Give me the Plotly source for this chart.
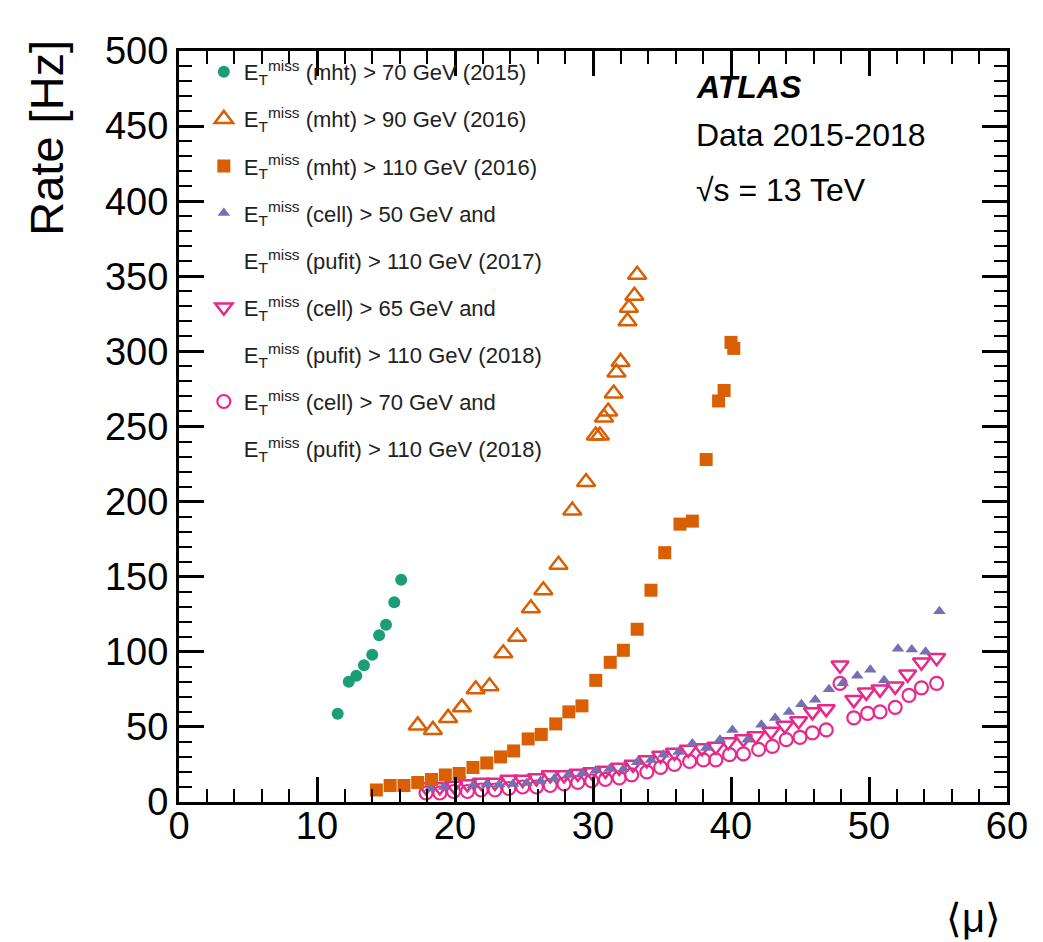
import plotly.graph_objects as go

# ---------------- data ----------------
mu_2015_mht70 = [11.5, 12.3, 12.85, 13.4, 14.0, 14.5, 15.0, 15.6, 16.1]
rate_2015_mht70 = [58.7, 80, 84, 91, 98, 111, 118, 133, 148]

mu_2016_mht90 = [17.3, 18.4, 19.5, 20.5, 21.5, 22.5, 23.5, 24.5, 25.5, 26.4, 27.5, 28.5, 29.5,
                 30.2, 30.5, 30.8, 31.1, 31.5, 31.7, 32.0, 32.5, 32.6, 33.0, 33.2]
rate_2016_mht90 = [51, 48, 56, 63, 75, 77, 99, 110, 129, 141, 158, 194, 213,
                   244, 244, 256, 260, 272, 286, 293, 320, 329, 337, 351]

mu_2016_mht110 = [14.3, 15.3, 16.3, 17.3, 18.3, 19.3, 20.3, 21.3, 22.3, 23.3, 24.25, 25.3, 26.25,
                  27.3, 28.25, 29.2, 30.2, 31.25, 32.2, 33.2, 34.2, 35.2, 36.3, 37.2, 38.2,
                  39.1, 39.5, 40.0, 40.2]
rate_2016_mht110 = [8, 11, 11, 13, 15, 18, 19, 23, 26, 30, 34, 42, 45,
                    52, 60, 64, 81, 93, 101, 115, 141, 166, 185, 187, 228,
                    267, 274, 306, 302]

mu_2017 = [18.2, 19.2, 20.4, 21.3, 22.3, 23.2, 24.2, 25.2, 26.2, 27.2, 28.2, 29.2, 30.2, 31.2,
           32.2, 33.2, 34.2, 35.1, 36.2, 37.2, 38.2, 39.2, 40.1, 41.2, 42.2, 43.2, 44.2, 45.1,
           46.1, 47.1, 48.1, 49.15, 50.1, 51.1, 52.1, 53.1, 54.1, 55.1]
rate_2017 = [9, 10, 18, 11, 12, 11.6, 12, 12.7, 14, 15.6, 18, 19, 21, 22,
             22, 26.5, 28, 31.5, 33.3, 39, 36, 41.5, 48, 41.5, 51.5, 56, 60, 65,
             68, 75, 79, 84, 88, 81, 102, 101.6, 100, 127]

mu_2018_cell65 = [17.9, 18.9, 19.9, 20.9, 21.9, 22.9, 23.9, 24.9, 25.9, 26.9, 27.9, 28.9, 29.9,
                  30.9, 31.9, 32.9, 33.9, 34.9, 35.9, 36.9, 37.9, 38.9, 39.8, 40.9, 41.8, 42.9,
                  43.9, 44.9, 45.9, 46.9, 47.9, 48.9, 49.8, 50.8, 51.9, 52.8, 53.8, 54.9]
rate_2018_cell65 = [10, 10, 11, 12, 13, 13, 15, 15, 16, 18, 18, 19, 20,
                    21, 23, 25, 28, 31, 33, 35, 36, 37, 40, 42, 44, 47,
                    51, 54, 60, 62, 91, 68, 73, 75, 77, 85, 93, 96]

mu_2018_cell70 = [17.9, 18.9, 19.9, 20.9, 21.9, 22.9, 23.9, 24.9, 25.9, 26.9, 27.9, 28.9, 29.9,
                  30.9, 31.9, 32.8, 33.9, 34.9, 35.9, 37.0, 38.0, 38.9, 39.9, 40.9, 42.0, 43.0,
                  44.0, 45.0, 45.9, 46.9, 47.9, 48.9, 49.9, 50.8, 51.9, 52.9, 53.8, 54.9]
rate_2018_cell70 = [6, 6, 7, 7, 8, 8, 9, 10, 10, 11, 12, 13, 14,
                    15, 16, 18, 20, 23, 25, 27, 28, 28, 31.5, 32, 35, 37,
                    41.5, 43, 46, 48, 79, 56, 59, 60, 63, 71, 76, 79]

ET = "E<sub>T</sub><sup>miss</sup>"
labels = [
    ET + " (mht) > 70 GeV (2015)",
    ET + " (mht) > 90 GeV (2016)",
    ET + " (mht) > 110 GeV (2016)",
    ET + " (cell) > 50 GeV and",
    ET + " (pufit) > 110 GeV (2017)",
    ET + " (cell) > 65 GeV and",
    ET + " (pufit) > 110 GeV (2018)",
    ET + " (cell) > 70 GeV and",
    ET + " (pufit) > 110 GeV (2018)",
]

GREEN, ORANGE, PURPLE, MAGENTA = "#1b9e77", "#d95f02", "#7570b3", "#e7298a"

fig = go.Figure()


def add(x, y, name, rank, marker):
    fig.add_trace(go.Scatter(x=x, y=y, mode="markers", name=name, legendrank=rank,
                             legendgroup=str(rank), marker=marker, cliponaxis=False))


# drawing order: pink circles, down triangles, then others
add(mu_2018_cell70, rate_2018_cell70, labels[7], 8,
    dict(symbol="circle-open", size=13, color=MAGENTA, line=dict(width=2.2, color=MAGENTA)))
add(mu_2018_cell65, rate_2018_cell65, labels[5], 6,
    dict(symbol="triangle-down-open", size=15, color=MAGENTA, line=dict(width=2.5, color=MAGENTA)))
add(mu_2017, rate_2017, labels[3], 4,
    dict(symbol="triangle-up", size=11, color=PURPLE))
add(mu_2016_mht110, rate_2016_mht110, labels[2], 3,
    dict(symbol="square", size=13, color=ORANGE))
add(mu_2016_mht90, rate_2016_mht90, labels[1], 2,
    dict(symbol="triangle-up-open", size=16, color=ORANGE, line=dict(width=2.5, color=ORANGE)))
add(mu_2015_mht70, rate_2015_mht70, labels[0], 1,
    dict(symbol="circle", size=12, color=GREEN))

# second lines of two-line legend entries (text only)
for rank, lab in [(5, labels[4]), (7, labels[6]), (9, labels[8])]:
    fig.add_trace(go.Scatter(x=[None], y=[None], mode="markers", name=lab, legendrank=rank,
                             legendgroup=str(rank),
                             marker=dict(color="rgba(0,0,0,0)", size=1)))

FONT = "Liberation Sans, Arial, sans-serif"

axis_common = dict(
    showline=True, linecolor="black", linewidth=3, mirror="ticks",
    ticks="inside", ticklen=25, tickwidth=2.5, tickcolor="black",
    showgrid=False, zeroline=False,
    tickfont=dict(family=FONT, size=38, color="black"),
)

fig.update_xaxes(range=[0, 60], dtick=10, tick0=0, ticklabelstandoff=-12,
                 minor=dict(ticks="inside", ticklen=13, dtick=2, tickwidth=2, tickcolor="black",
                            showgrid=False),
                 **axis_common)
fig.update_yaxes(range=[0, 500], dtick=50, tick0=0,
                 minor=dict(ticks="inside", ticklen=13, dtick=10, tickwidth=2, tickcolor="black",
                            showgrid=False),
                 **axis_common)

fig.add_annotation(text="Rate [Hz]", textangle=-90, xref="paper", yref="paper",
                   x=-0.16, y=1.017, xanchor="center", yanchor="top", showarrow=False,
                   font=dict(family=FONT, size=47, color="black"))
fig.add_annotation(text="⟨μ⟩", xref="paper", yref="paper",
                   x=0.96, y=-0.155, xanchor="center", yanchor="middle", showarrow=False,
                   font=dict(family=FONT, size=40, color="black"))

fig.add_annotation(text="<b><i>ATLAS</i></b>", xref="paper", yref="paper",
                   x=0.622, y=0.952, xanchor="left", yanchor="middle", showarrow=False,
                   font=dict(family=FONT, size=32, color="black"))
fig.add_annotation(text="Data 2015-2018", xref="paper", yref="paper",
                   x=0.622, y=0.888, xanchor="left", yanchor="middle", showarrow=False,
                   font=dict(family=FONT, size=32, color="black"))
fig.add_annotation(text="√s = 13 TeV", xref="paper", yref="paper",
                   x=0.622, y=0.815, xanchor="left", yanchor="middle", showarrow=False,
                   font=dict(family=FONT, size=32, color="black"))

fig.update_layout(
    width=1043, height=942,
    margin=dict(l=171, r=44, t=43, b=148),
    paper_bgcolor="white", plot_bgcolor="white",
    font=dict(family=FONT, color="black"),
    showlegend=True,
    legend=dict(x=0.03, y=1.0, xanchor="left", yanchor="top",
                bgcolor="rgba(0,0,0,0)", borderwidth=0,
                font=dict(family=FONT, size=22, color="#222"),
                traceorder="grouped", tracegroupgap=15.5, itemsizing="trace"),
)

fig.write_html("out.html")
